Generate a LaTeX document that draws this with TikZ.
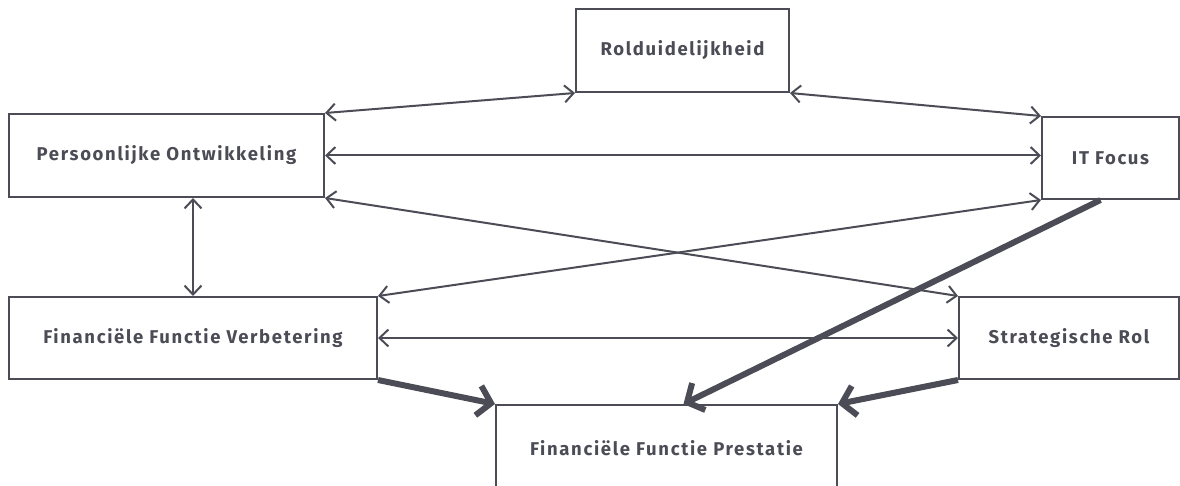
\documentclass[tikz,border=0pt]{standalone}
\usepackage{fontspec}
\setmainfont{Fira Sans}[LetterSpace=9]
\usetikzlibrary{arrows.meta}
\definecolor{ink}{RGB}{76,76,86}

\begin{document}
\begin{tikzpicture}[x=1pt,y=-1pt,
    box/.style={draw=ink,line width=2pt,text=ink,rectangle,font=\fontsize{18.5}{22}\selectfont\bfseries},
    link/.style={draw=ink,line width=2pt,{Straight Barb[length=9pt,width=17pt]}-{Straight Barb[length=9pt,width=17pt]}},
    push/.style={draw=ink,line width=6pt,-{Straight Barb[length=13pt,width=30pt]}}]
    \useasboundingbox (0,0) rectangle (1180,486);
    \node[box,minimum width=213pt,minimum height=83pt] (rol) at (682.5,50.5) {Rolduidelijkheid};
    \node[box,minimum width=315pt,minimum height=83pt] (pers) at (166.5,155.5) {Persoonlijke Ontwikkeling};
    \node[box,minimum width=137pt,minimum height=82pt] (itf) at (1110.5,158) {IT Focus};
    \node[box,minimum width=368pt,minimum height=82pt] (ffv) at (193,338) {Financiële Functie Verbetering};
    \node[box,minimum width=220pt,minimum height=82pt] (strat) at (1069,338) {Strategische Rol};
    \node[box,minimum width=341pt,minimum height=86pt] (ffp) at (666.5,448) {Financiële Functie Prestatie};
    \draw[link] (pers.north east) -- (rol.south west);
    \draw[link] (rol.south east) -- (itf.north west);
    \draw[link] (pers.east) -- (pers.east -| itf.west);
    \draw[link] (pers.south east) -- (strat.north west);
    \draw[link] (itf.south west) -- (ffv.north east);
    \draw[link] (ffv.north |- pers.south) -- (ffv.north);
    \draw[link] (ffv.east) -- (strat.west);
    \draw[push] (ffv.south east) -- (ffp.north west);
    \draw[push] ([xshift=-10pt]itf.south) -- ([xshift=17pt]ffp.north);
    \draw[push] (strat.south west) -- (ffp.north east);
\end{tikzpicture}
\end{document}
